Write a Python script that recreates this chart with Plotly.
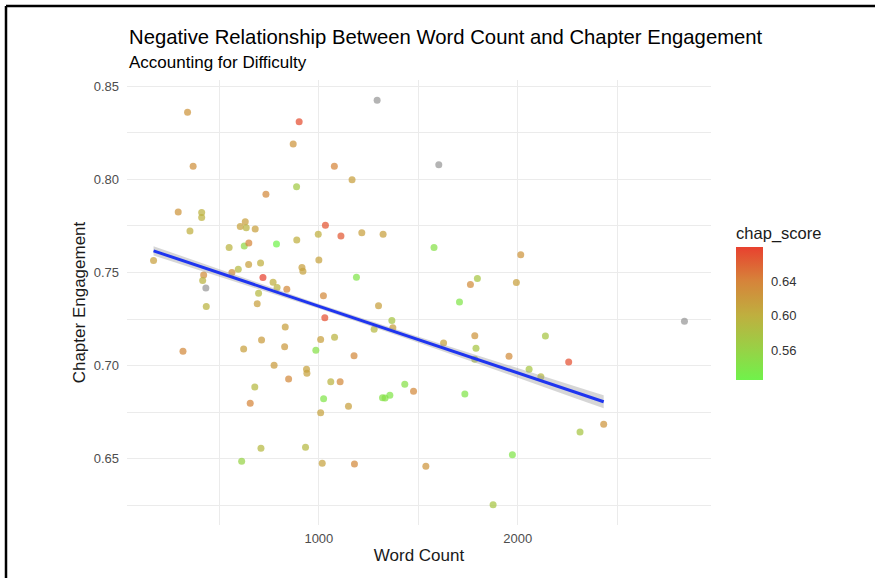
import numpy as np
import plotly.graph_objects as go

word_count = [340, 901, 871, 368, 1078, 888, 734, 293, 411, 411,
              352, 630, 605, 635, 680, 1033, 1111, 549, 625, 648,
              787, 889, 997, 169, 595, 647, 707, 915, 1000, 1293,
              1603, 1167, 1216, 1323, 1579, 2015, 421, 416, 432, 434,
              563, 719, 770, 790, 839, 697, 690, 920, 1023, 1030,
              831, 712, 622, 828, 1009, 1079, 985, 317, 775, 938,
              940, 848, 1060, 1107, 678, 1024, 655, 1009, 709, 933,
              612, 1017, 1189, 1300, 1367, 1372, 1278, 1177, 1762, 1797,
              1993, 1707, 1784, 1790, 1784, 1627, 1956, 2057, 1149, 1432,
              1476, 1320, 1333, 1357, 1734, 1179, 1538, 1973, 1876, 2139,
              2256, 2116, 2432, 2313, 2838]

engagement = [0.836, 0.831, 0.819, 0.807, 0.807, 0.796, 0.792, 0.7825, 0.7822, 0.7795,
              0.7723, 0.7773, 0.7747, 0.7741, 0.7734, 0.7754, 0.7696, 0.7634, 0.7643, 0.7659,
              0.7653, 0.7675, 0.7705, 0.7564, 0.7517, 0.7543, 0.7551, 0.7527, 0.7567, 0.8425,
              0.8079, 0.7998, 0.7714, 0.7705, 0.7634, 0.7596, 0.7486, 0.7457, 0.7417, 0.7318,
              0.7500, 0.7473, 0.7448, 0.7420, 0.7410, 0.7389, 0.7332, 0.7507, 0.7375, 0.7257,
              0.7208, 0.7137, 0.7090, 0.7101, 0.7141, 0.7153, 0.7082, 0.7077, 0.7002, 0.6980,
              0.6959, 0.6928, 0.6914, 0.6913, 0.6885, 0.6822, 0.6798, 0.6747, 0.6557, 0.6562,
              0.6487, 0.6476, 0.7475, 0.7321, 0.7243, 0.7203, 0.7196, 0.7053, 0.7436, 0.7468,
              0.7446, 0.7342, 0.7160, 0.7094, 0.7034, 0.7121, 0.7050, 0.6980, 0.6782, 0.6900,
              0.6862, 0.6828, 0.6826, 0.6841, 0.6848, 0.6472, 0.6460, 0.6522, 0.6253, 0.7159,
              0.7019, 0.6940, 0.6685, 0.6644, 0.7239]

chap_score = [0.625, 0.672, 0.625, 0.628, 0.638, 0.570, 0.635, 0.625, 0.598, 0.598,
              0.600, 0.615, 0.612, 0.595, 0.615, 0.668, 0.665, 0.595, 0.555, 0.638,
              0.525, 0.600, 0.600, 0.615, 0.590, 0.615, 0.600, 0.615, 0.612, None,
              None, 0.615, 0.615, 0.615, 0.545, 0.625, 0.630, 0.595, None, 0.595,
              0.628, 0.679, 0.600, 0.595, 0.635, 0.590, 0.615, 0.612, 0.635, 0.670,
              0.615, 0.618, 0.615, 0.620, 0.615, 0.595, 0.545, 0.635, 0.618, 0.612,
              0.612, 0.635, 0.595, 0.635, 0.590, 0.540, 0.638, 0.612, 0.590, 0.590,
              0.560, 0.612, 0.540, 0.615, 0.575, 0.615, 0.590, 0.635, 0.632, 0.575,
              0.615, 0.540, 0.625, 0.575, 0.580, 0.612, 0.632, 0.575, 0.615, 0.545,
              0.635, 0.545, 0.545, 0.540, 0.540, 0.635, 0.625, 0.540, 0.575, 0.575,
              0.670, 0.590, 0.625, 0.575, None]

# each chapter point stands for many reader rows in the underlying data
rows_per_chapter = 40

x_ticks = [1000, 2000]
y_ticks = [0.65, 0.70, 0.75, 0.80, 0.85]
y_tick_labels = ["0.65", "0.70", "0.75", "0.80", "0.85"]
cbar_ticks = [0.56, 0.60, 0.64]
cbar_tick_labels = ["0.56", "0.60", "0.64"]

x = np.array(word_count, dtype=float)
y = np.array(engagement, dtype=float)
s = np.array([np.nan if v is None else v for v in chap_score], dtype=float)
ok = ~np.isnan(s)

# linear fit with 95% CI (on rows with a score)
xv = np.repeat(x[ok], rows_per_chapter)
yv = np.repeat(y[ok], rows_per_chapter)
n = len(xv)
b1, b0 = np.polyfit(xv, yv, 1)
resid = yv - (b0 + b1 * xv)
sigma = np.sqrt(np.sum(resid ** 2) / (n - 2))
xbar = xv.mean()
sxx = np.sum((xv - xbar) ** 2)
xs = np.linspace(xv.min(), xv.max(), 80)
fit = b0 + b1 * xs
se = sigma * np.sqrt(1.0 / n + (xs - xbar) ** 2 / sxx)
tval = 1.96
upper = fit + tval * se
lower = fit - tval * se

# ggplot-like expanded ranges
xr = x.max() - x.min()
yr = y.max() - y.min()
x_range = [x.min() - 0.05 * xr, x.max() + 0.05 * xr]
y_range = [y.min() - 0.05 * yr, y.max() + 0.05 * yr]

colorscale = [[0.0, "#70F24B"], [0.227, "#97D246"], [0.487, "#BFAF3F"],
              [0.747, "#D6833A"], [1.0, "#E8412F"]]

fig = go.Figure()

fig.add_trace(go.Scatter(
    x=x[~ok], y=y[~ok], mode="markers",
    marker=dict(size=7, color="#8C8C8C", opacity=0.65, line=dict(width=0)),
    showlegend=False, hoverinfo="skip"))

fig.add_trace(go.Scatter(
    x=x[ok], y=y[ok], mode="markers",
    marker=dict(size=7, color=s[ok], colorscale=colorscale,
                cmin=float(np.nanmin(s)), cmax=float(np.nanmax(s)),
                opacity=0.72, line=dict(width=0), showscale=True,
                colorbar=dict(
                    title=dict(text="chap_score", side="top",
                               font=dict(size=16.5, color="#1a1a1a")),
                    x=1.043, xanchor="left", xpad=0,
                    y=(525 - 302) / 445, yanchor="middle", ypad=0,
                    len=157, lenmode="pixels", thickness=27,
                    outlinewidth=0,
                    tickvals=cbar_ticks, ticktext=cbar_tick_labels,
                    ticks="outside", ticklen=6, tickcolor="white", tickwidth=1,
                    tickfont=dict(size=13, color="#333333"))),
    showlegend=False))

fig.add_trace(go.Scatter(x=xs, y=upper, mode="lines", line=dict(width=0),
                         showlegend=False, hoverinfo="skip"))
fig.add_trace(go.Scatter(x=xs, y=lower, mode="lines", line=dict(width=0),
                         fill="tonexty", fillcolor="rgba(153,153,153,0.4)",
                         showlegend=False, hoverinfo="skip"))
fig.add_trace(go.Scatter(x=xs, y=fit, mode="lines",
                         line=dict(color="#1F35F0", width=3),
                         showlegend=False, hoverinfo="skip"))

grid = "#EBEBEB"
fig.update_layout(
    width=875, height=578,
    margin=dict(l=127, r=164, t=80, b=53),
    paper_bgcolor="white", plot_bgcolor="white",
    font=dict(family="Liberation Sans, Arial, sans-serif", color="#1a1a1a"),
    xaxis=dict(range=x_range, tickvals=x_ticks, showgrid=True, gridcolor=grid,
               gridwidth=1.2, zeroline=False, showline=False,
               tickfont=dict(size=13, color="#4D4D4D"), ticks="",
               ticklabelstandoff=4,
               minor=dict(dtick=500, tick0=0, showgrid=True, gridcolor=grid, gridwidth=0.8),
               title=dict(text="Word Count", font=dict(size=17, color="#1a1a1a"), standoff=4)),
    yaxis=dict(range=y_range, tickvals=y_ticks, ticktext=y_tick_labels,
               showgrid=True, gridcolor=grid, gridwidth=1.2, zeroline=False,
               showline=False, tickfont=dict(size=13, color="#4D4D4D"), ticks="",
               ticklabelstandoff=7,
               minor=dict(dtick=0.025, tick0=0, showgrid=True, gridcolor=grid, gridwidth=0.8),
               title=dict(text="Chapter Engagement", font=dict(size=17, color="#1a1a1a"), standoff=3)),
    annotations=[
        dict(text="Negative Relationship Between Word Count and Chapter Engagement",
             xref="paper", yref="paper", x=0, y=(525 - 37) / 445, xanchor="left",
             yanchor="middle", showarrow=False, font=dict(size=20.3, color="#000000")),
        dict(text="Accounting for Difficulty",
             xref="paper", yref="paper", x=0, y=(525 - 62) / 445, xanchor="left",
             yanchor="middle", showarrow=False, font=dict(size=17, color="#000000")),
    ],
    shapes=[
        dict(type="line", xref="paper", yref="paper",
             x0=(6 - 127) / 584, x1=(875 - 127) / 584,
             y0=(525 - 6) / 445, y1=(525 - 6) / 445,
             line=dict(color="black", width=2.5)),
        dict(type="line", xref="paper", yref="paper",
             x0=(6 - 127) / 584, x1=(6 - 127) / 584,
             y0=(525 - 6) / 445, y1=(525 - 580) / 445,
             line=dict(color="black", width=2.5)),
    ],
)

fig.write_html("out.html", config={"displayModeBar": False},
               post_script="document.body.style.margin='0';")
